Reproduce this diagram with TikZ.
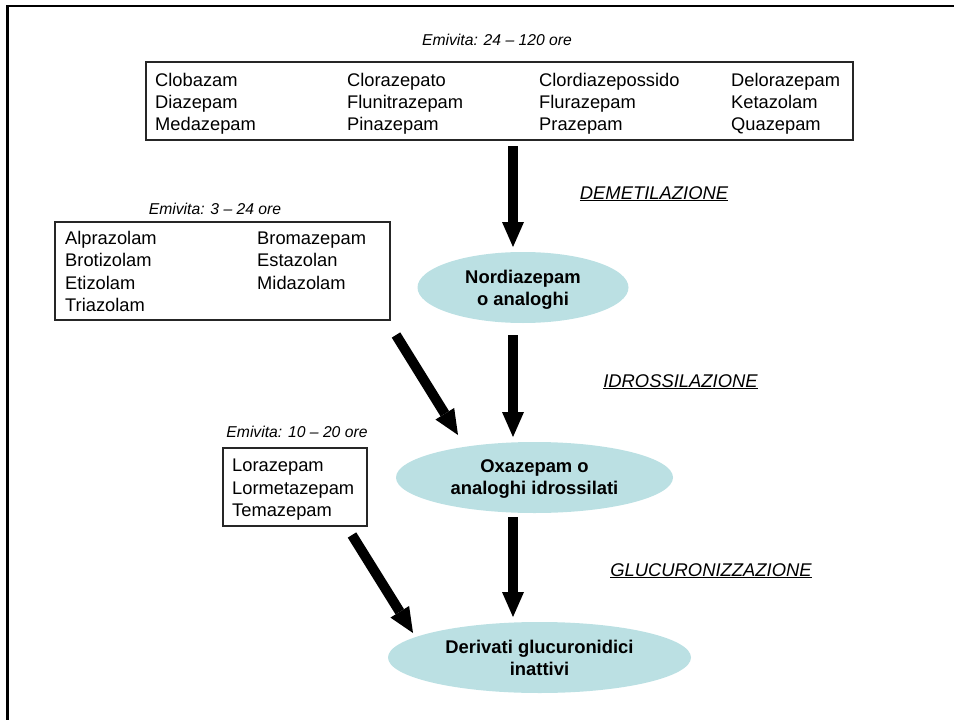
\documentclass[tikz,border=0pt]{standalone}
\usepackage{fontspec}
\setmainfont{Liberation Sans}
\usetikzlibrary{arrows.meta,shapes.geometric}
\definecolor{ellfill}{RGB}{187,224,227}
\tikzset{
  bigarrow/.style={line width=10pt,-{Triangle[width=22pt,length=25pt,line width=0pt]}},
  boxframe/.style={draw=black!85,line width=1.1pt,inner sep=0pt},
  item/.style={anchor=base west,inner sep=0pt,font=\fontsize{18.3pt}{22pt}\selectfont},
  halflife/.style={anchor=base,inner sep=0pt,font=\fontsize{15.7pt}{18pt}\selectfont\itshape},
  step label/.style={anchor=base,inner sep=0pt,font=\fontsize{18.4pt}{22pt}\selectfont\itshape},
  metab/.style={ellipse,fill=ellfill,draw=none,inner sep=0pt,minimum height=71pt,align=center,
    text depth=0pt,font=\fontsize{18.4pt}{22pt}\selectfont\bfseries},
}
\begin{document}
\begin{tikzpicture}[x=1pt,y=-1pt]
\useasboundingbox (0,0) rectangle (954,720);
% outer frame (only left and top edges visible)
\draw[line width=2.2pt] (7.5,720) -- (7.5,6.2) -- (954,6.2);

% top group
\node[halflife] (t1) at (497,45.7) {Emivita: 24 – 120 ore};
\node[boxframe,minimum width=707pt,minimum height=78pt] (b1) at (499.5,101) {};
\node[item] (c11) at (155,86) {Clobazam};
\node[item] (c12) at (155,108.3) {Diazepam};
\node[item] (c13) at (155,130.6) {Medazepam};
\node[item] (c21) at (347,86) {Clorazepato};
\node[item] (c22) at (347,108.3) {Flunitrazepam};
\node[item] (c23) at (347,130.6) {Pinazepam};
\node[item] (c31) at (539,86) {Clordiazepossido};
\node[item] (c32) at (539,108.3) {Flurazepam};
\node[item] (c33) at (539,130.6) {Prazepam};
\node[item] (c41) at (731,86) {Delorazepam};
\node[item] (c42) at (731,108.3) {Ketazolam};
\node[item] (c43) at (731,130.6) {Quazepam};

% middle group
\node[halflife] (t2) at (215,214) {Emivita: 3 – 24 ore};
\node[boxframe,minimum width=335pt,minimum height=98pt] (b2) at (222.5,271) {};
\node[item] (m11) at (65,244.4) {Alprazolam};
\node[item] (m12) at (65,266.8) {Brotizolam};
\node[item] (m13) at (65,289.2) {Etizolam};
\node[item] (m14) at (65,311.6) {Triazolam};
\node[item] (m21) at (257,244.4) {Bromazepam};
\node[item] (m22) at (257,266.8) {Estazolan};
\node[item] (m23) at (257,289.2) {Midazolam};

% lower group
\node[halflife] (t3) at (297,437.3) {Emivita: 10 – 20 ore};
\node[boxframe,minimum width=144pt,minimum height=78pt] (b3) at (295,487) {};
\node[item] (l1) at (232,471.6) {Lorazepam};
\node[item] (l2) at (232,494) {Lormetazepam};
\node[item] (l3) at (232,516.2) {Temazepam};

% metabolites
\node[metab,minimum width=211pt] (nord) at (523,287.5) {Nordiazepam\\o analoghi};
\node[metab,minimum width=277pt] (oxa) at (534.5,477.5) {Oxazepam o\\analoghi idrossilati};
\node[metab,minimum width=303pt] (deriv) at (539.5,657.5) {Derivati glucuronidici\\inattivi};

% step labels
\node[step label] (s1) at (654,199) {\underline{DEMETILAZIONE}};
\node[step label] (s2) at (680.5,387) {\underline{IDROSSILAZIONE}};
\node[step label] (s3) at (711,576) {\underline{GLUCURONIZZAZIONE}};

% arrow end points
\coordinate (a1s) at (513,146);
\coordinate (a1e) at (513,247);
\coordinate (a2s) at (513,335);
\coordinate (a2e) at (513,437);
\coordinate (a3s) at (513,517);
\coordinate (a3e) at (513,617);
\coordinate (d2s) at (396,335);
\coordinate (d2e) at (458,435);
\coordinate (d3s) at (352,535);
\coordinate (d3e) at (413,633);

\draw[bigarrow] (a1s) -- (a1e);
\draw[bigarrow] (a2s) -- (a2e);
\draw[bigarrow] (a3s) -- (a3e);
\draw[bigarrow] (d2s) -- (d2e);
\draw[bigarrow] (d3s) -- (d3e);
\end{tikzpicture}
\end{document}
